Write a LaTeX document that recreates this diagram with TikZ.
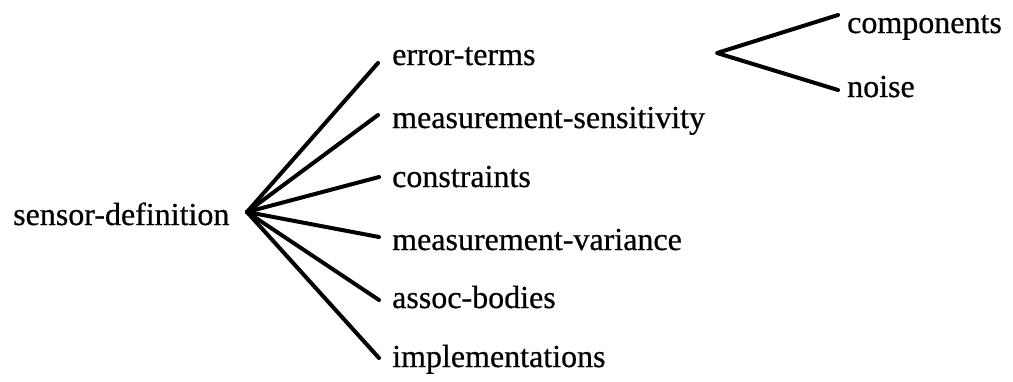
\documentclass[tikz,border=0pt]{standalone}
\usepackage{fontspec}
\setmainfont{Liberation Serif}
\newfontfamily\labfont[FakeBold=0.6]{Liberation Serif}
\begin{document}
\begin{tikzpicture}[x=1pt,y=-1pt,
  lab/.style={anchor=base west,inner sep=0pt,font=\labfont\fontsize{32}{36}\selectfont},
  branch/.style={line width=4pt,line cap=round,line join=round}]
\useasboundingbox (0,0) rectangle (1013,381);
% nodes
\node[lab] (sd) at (13,225) {sensor-definition};
\node[lab] (et) at (392,65) {error-terms};
\node[lab] (ms) at (392,128) {measurement-sensitivity};
\node[lab] (co) at (392,187) {constraints};
\node[lab] (mv) at (392,250) {measurement-variance};
\node[lab] (ab) at (392,308) {assoc-bodies};
\node[lab] (im) at (392,367) {implementations};
\node[lab] (cp) at (847,33) {components};
\node[lab] (no) at (847,97) {noise};
% hubs and connector ends
\coordinate (h1) at (247,212);
\coordinate (h2) at (717,53);
\coordinate (etl) at (378,63);
\coordinate (msl) at (378,115);
\coordinate (col) at (379,177);
\coordinate (mvl) at (379,237);
\coordinate (abl) at (379,300);
\coordinate (iml) at (379,358);
\coordinate (cpl) at (838,15);
\coordinate (nol) at (838,90);
% connectors
\foreach \e in {etl,msl,col,mvl,abl,iml} \draw[branch] (h1) -- (\e);
\draw[branch] (cpl) -- (h2) -- (nol);
\end{tikzpicture}
\end{document}
